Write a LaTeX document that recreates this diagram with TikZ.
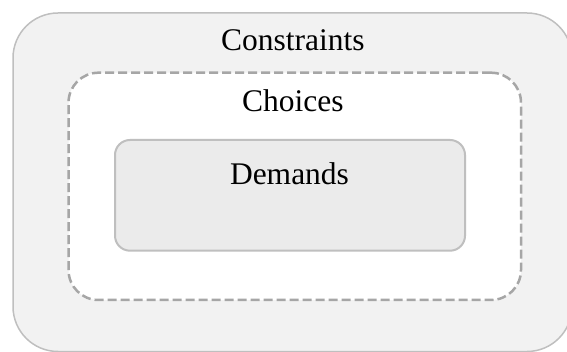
\documentclass[tikz,border=0pt]{standalone}
\usepackage{fontspec}
\setmainfont{Liberation Serif}
\definecolor{outerfill}{HTML}{F2F2F2}
\definecolor{outerline}{HTML}{BFBFBF}
\definecolor{dashline}{HTML}{A6A6A6}
\definecolor{innerfill}{HTML}{EBEBEB}
\tikzset{
  layer/.style={rectangle, inner sep=0pt, outer sep=0pt},
  outerbox/.style={layer, draw=outerline, fill=outerfill, line width=1.5pt, rounded corners=45pt},
  choicebox/.style={layer, draw=dashline, fill=white, line width=2.5pt, dash pattern=on 9pt off 4pt, rounded corners=30pt},
  innerbox/.style={layer, draw=outerline, fill=innerfill, line width=2pt, rounded corners=15pt},
  label/.style={anchor=base, inner sep=0pt, font=\fontsize{31.5}{36}\selectfont}
}
\begin{document}
\begin{tikzpicture}[x=1pt, y=-1pt]
  \useasboundingbox (0,0) rectangle (567,352);
  \clip (0,0) rectangle (567,352);
  % outer frame: constraints
  \node[outerbox, minimum width=559pt, minimum height=338.5pt] (constraints) at (292.5,182.25) {};
  % dashed frame: choices
  \node[choicebox, minimum width=452.5pt, minimum height=227.3pt] (choices) at (294.75,186.35) {};
  % inner box: demands
  \node[innerbox, minimum width=350pt, minimum height=110.7pt] (demands) at (290,195.35) {};
  % labels
  \node[label] (tconstraints) at (292.8,50.7) {Constraints};
  \node[label] (tchoices) at (292.8,111.7) {Choices};
  \node[label] (tdemands) at (289.5,185) {Demands};
\end{tikzpicture}
\end{document}
